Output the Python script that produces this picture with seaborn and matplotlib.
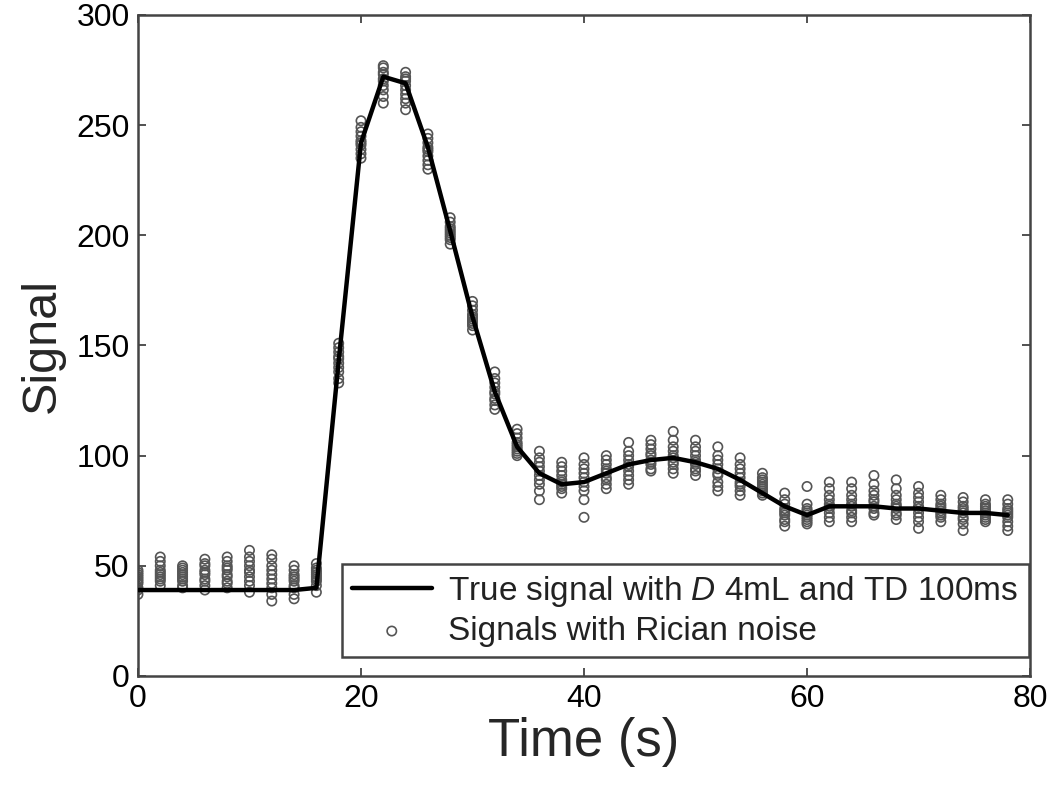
import numpy as np
import pandas as pd
import matplotlib
matplotlib.use("Agg")
import matplotlib.pyplot as plt
import seaborn as sns

# ---- data ----
time_s = [0, 2, 4, 6, 8, 10, 12, 14, 16, 18, 20, 22, 24, 26, 28, 30, 32, 34, 36, 38,
          40, 42, 44, 46, 48, 50, 52, 54, 56, 58, 60, 62, 64, 66, 68, 70, 72, 74, 76, 78]

true_signal = [39, 39, 39, 39, 39, 39, 39, 39, 40, 143, 242, 272, 269, 240, 202, 163, 129, 104, 92, 87,
               88, 92, 96, 98, 99, 97, 94, 89, 83, 77, 73, 77, 77, 77, 76, 76, 75, 74, 74, 73]

noisy_signals = [
    [37, 39, 40, 42, 43, 44, 45, 46, 47, 48],
    [41, 43, 44, 45, 46, 47, 48, 50, 52, 54],
    [40, 41, 43, 44, 45, 46, 47, 48, 49, 50],
    [39, 41, 43, 44, 46, 47, 48, 50, 51, 53],
    [40, 42, 43, 45, 46, 48, 49, 50, 52, 54],
    [38, 41, 43, 45, 47, 48, 50, 52, 54, 57],
    [34, 37, 40, 42, 44, 46, 48, 50, 53, 55],
    [35, 37, 40, 41, 43, 44, 45, 46, 48, 50],
    [38, 41, 43, 44, 45, 46, 47, 48, 49, 51],
    [133, 135, 138, 140, 142, 144, 145, 147, 149, 151],
    [235, 237, 239, 241, 242, 243, 245, 247, 249, 252],
    [260, 263, 266, 268, 270, 271, 273, 274, 276, 277],
    [257, 260, 262, 264, 266, 268, 270, 271, 272, 274],
    [230, 232, 234, 236, 238, 239, 240, 242, 244, 246],
    [196, 198, 199, 200, 201, 202, 203, 204, 206, 208],
    [157, 159, 160, 161, 162, 163, 164, 166, 168, 170],
    [121, 123, 125, 126, 128, 129, 131, 133, 135, 138],
    [100, 101, 102, 103, 104, 105, 106, 108, 110, 112],
    [80, 84, 87, 89, 91, 93, 95, 97, 99, 102],
    [83, 85, 86, 87, 88, 89, 91, 93, 95, 97],
    [72, 80, 84, 86, 88, 90, 92, 94, 96, 99],
    [85, 87, 89, 90, 92, 93, 94, 96, 98, 100],
    [87, 89, 91, 93, 95, 96, 98, 100, 102, 106],
    [93, 94, 96, 97, 98, 100, 101, 103, 105, 107],
    [92, 94, 96, 97, 99, 100, 102, 104, 107, 111],
    [91, 93, 94, 96, 97, 98, 100, 102, 104, 107],
    [84, 86, 88, 91, 92, 94, 96, 98, 100, 104],
    [82, 84, 86, 87, 88, 90, 92, 94, 96, 99],
    [82, 83, 84, 85, 86, 87, 88, 89, 90, 92],
    [68, 70, 71, 73, 74, 75, 76, 78, 80, 83],
    [69, 70, 71, 72, 73, 74, 75, 76, 78, 86],
    [70, 72, 74, 76, 77, 78, 80, 82, 85, 88],
    [70, 72, 74, 75, 77, 78, 80, 82, 85, 88],
    [73, 74, 76, 77, 79, 80, 82, 84, 87, 91],
    [71, 73, 74, 76, 77, 78, 80, 82, 85, 89],
    [67, 70, 72, 74, 76, 77, 79, 81, 83, 86],
    [70, 72, 73, 74, 75, 76, 77, 78, 80, 82],
    [66, 69, 71, 72, 74, 75, 76, 77, 79, 81],
    [70, 71, 72, 73, 74, 75, 76, 77, 78, 80],
    [66, 68, 70, 72, 73, 74, 75, 76, 78, 80],
]

x_ticks = [0, 20, 40, 60, 80]
y_ticks = [0, 50, 100, 150, 200, 250, 300]

line_label = "True signal with $\\mathit{D}$ 4mL and TD 100ms"
noise_label = "Signals with Rician noise"

# ---- build tables ----
line_df = pd.DataFrame({"Time": time_s, "Signal": true_signal})
rows = []
for t, samples in zip(time_s, noisy_signals):
    for v in samples:
        rows.append((t, v))
noise_df = pd.DataFrame(rows, columns=["Time", "Signal"])

sns.set_theme(style="white")
plt.rcParams["font.family"] = ["Liberation Sans", "DejaVu Sans"]
plt.rcParams["mathtext.fontset"] = "custom"
plt.rcParams["mathtext.it"] = "Liberation Sans:italic"
plt.rcParams["mathtext.rm"] = "Liberation Sans"

fig = plt.figure(figsize=(10.5, 7.85), dpi=100)
ax = fig.add_axes([0.1314, 0.1389, 0.8496, 0.8420])

sns.scatterplot(data=noise_df, x="Time", y="Signal", ax=ax, marker="o",
                s=45, facecolors="none", edgecolors="#555555", linewidth=1.2,
                label=noise_label, zorder=2)
sns.lineplot(data=line_df, x="Time", y="Signal", ax=ax, color="black",
             linewidth=3.2, label=line_label, zorder=3)

ax.set_xlim(0, 80)
ax.set_ylim(0, 300)
ax.set_xticks(x_ticks)
ax.set_yticks(y_ticks)
ax.tick_params(direction="in", length=6, width=1.2, colors="#333333",
               labelsize=23, labelcolor="black", top=True, right=True,
               bottom=True, left=True, pad=6)
for sp in ax.spines.values():
    sp.set_color("#444444")
    sp.set_linewidth(1.8)

ax.set_xlabel("Time (s)", fontsize=38, labelpad=2)
ax.set_ylabel("Signal", fontsize=35, labelpad=8)

handles, labels = ax.get_legend_handles_labels()
order = [labels.index(line_label), labels.index(noise_label)]
leg = ax.legend([handles[i] for i in order], [labels[i] for i in order],
                loc="lower right", bbox_to_anchor=(0.9985, 0.029),
                fontsize=24, frameon=True, fancybox=False, framealpha=1,
                edgecolor="#444444", handlelength=2.4, handletextpad=0.5,
                borderpad=0.3, labelspacing=0.2, borderaxespad=0)
leg.get_frame().set_linewidth(1.8)
for txt in leg.get_texts():
    txt.set_color("#222222")

fig.savefig("out.png", dpi=100)
